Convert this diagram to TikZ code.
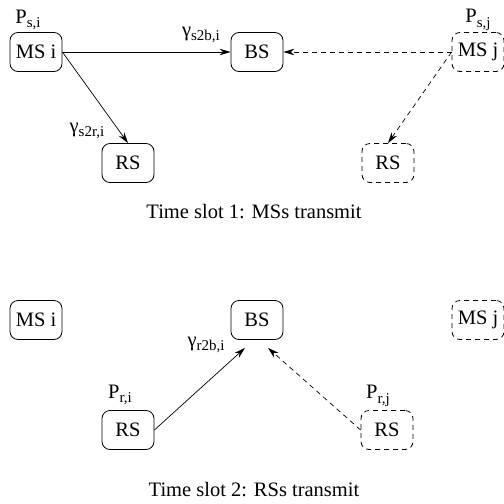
\documentclass[tikz,border=0pt]{standalone}
\usepackage{fontspec}
\setmainfont{Liberation Serif}
\usetikzlibrary{arrows.meta,calc}
\newcommand\lowsub[1]{\raisebox{-0.5ex}{\fontsize{15}{15}\selectfont #1}}
\begin{document}
\begin{tikzpicture}[x=1pt,y=-1pt, font=\fontsize{20.5}{24}\selectfont,
  box/.style={draw, rounded corners=8pt, minimum width=52pt, minimum height=39pt, inner sep=0pt, line width=0.8pt},
  dbox/.style={box, dash pattern=on 5pt off 4pt},
  arr/.style={-{Stealth[length=11pt,width=6.5pt]}, line width=0.7pt},
  darr/.style={arr, dash pattern=on 5pt off 4pt},
  lab/.style={inner sep=0pt}]
\useasboundingbox (0,0) rectangle (504,504);
% time slot 1
\node[box]  (msi1) at (36,52)  {MS i};
\node[box]  (bs1)  at (257,52) {BS};
\node[dbox] (msj1) at (478,52) {MS j};
\node[box]  (rsi1) at (128,163) {RS};
\node[dbox] (rsj1) at (388,163) {RS};
\draw[arr]  (msi1.east) -- (bs1.west);
\draw[arr]  (msi1.east) -- (rsi1.north);
\draw[darr] (msj1.west) -- (bs1.east);
\draw[darr] (msj1.west) -- (rsj1.north);
\node[lab] (psi) at (28,20) {P\lowsub{s,i}};
\node[lab] (psj) at (478,20) {P\lowsub{s,j}};
\node[lab] (gsb) at (201,35) {γ\lowsub{s2b,i}};
\node[lab] (gsr) at (87,131) {γ\lowsub{s2r,i}};
\node[lab] (cap1) at (254,212) {Time slot 1: MSs transmit};
% time slot 2
\node[box]  (msi2) at (36,320)  {MS i};
\node[box]  (bs2)  at (257,320) {BS};
\node[dbox] (msj2) at (478,320) {MS j};
\node[box]  (rsi2) at (128,430) {RS};
\node[dbox] (rsj2) at (387,430) {RS};
\draw[arr]  (rsi2.east) -- ($(bs2.south)+(-12,8)$);
\draw[darr] (rsj2.west) -- ($(bs2.south)+(11,8)$);
\node[lab] (gr) at (206,345) {γ\lowsub{r2b,i}};
\node[lab] (pri) at (120,395) {P\lowsub{r,i}};
\node[lab] (prj) at (378,396) {P\lowsub{r,j}};
\node[lab] (cap2) at (254,490) {Time slot 2: RSs transmit};
\end{tikzpicture}
\end{document}
